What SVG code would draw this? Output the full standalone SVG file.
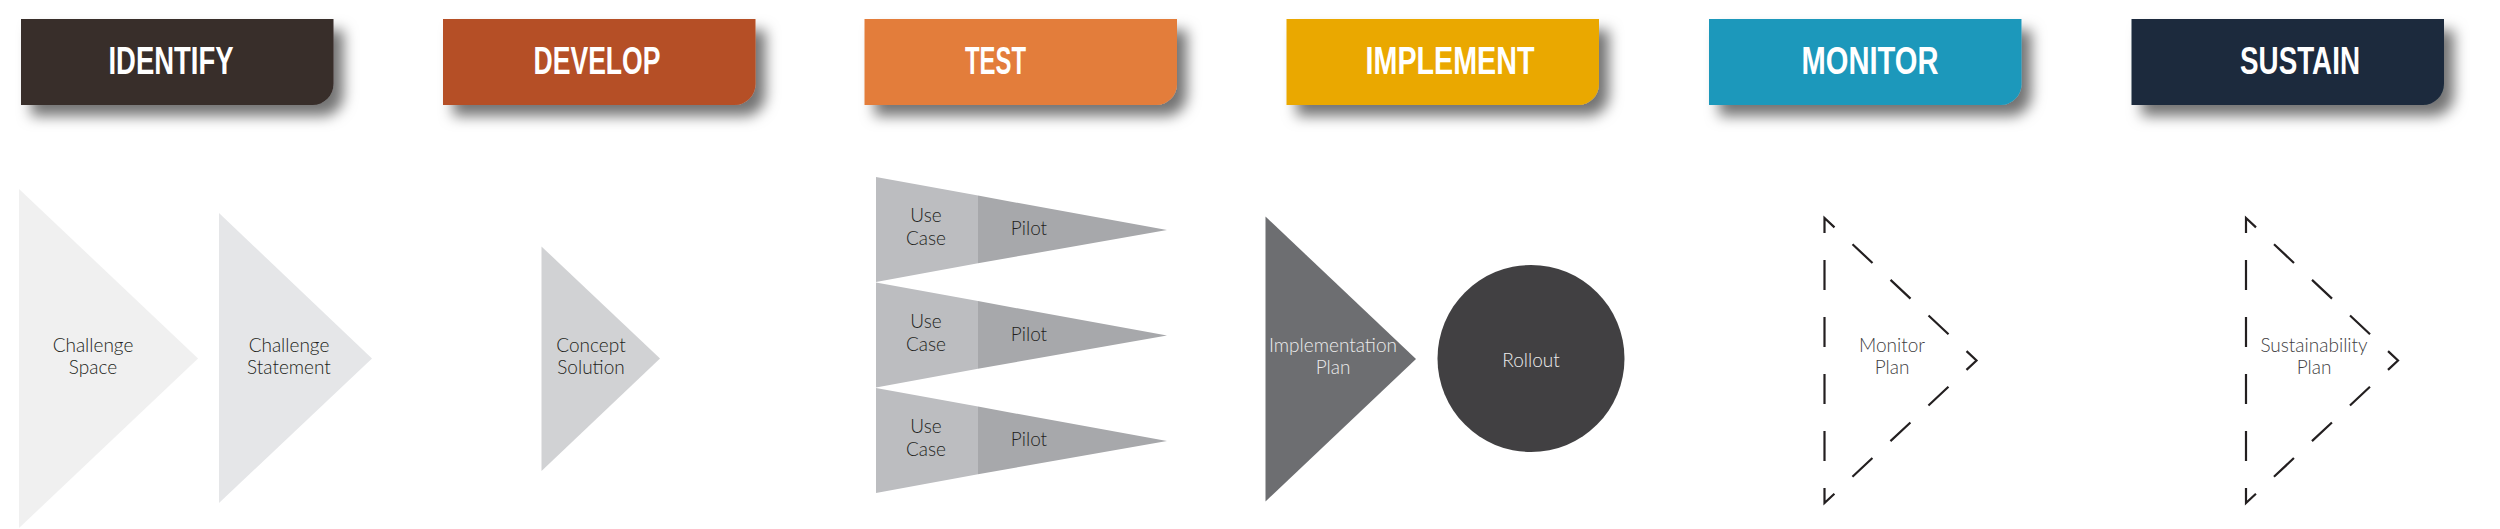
<svg xmlns="http://www.w3.org/2000/svg" width="2500" height="529" viewBox="0 0 2500 529">
<defs>
<filter id="sh" x="-10%" y="-30%" width="130%" height="190%">
<feDropShadow dx="10" dy="11" stdDeviation="7" flood-color="#000" flood-opacity="0.55"/>
</filter>
</defs>
<style>
.hdr{font-family:"Liberation Sans",Arial,sans-serif;font-weight:bold;font-size:38px;fill:#fff;text-anchor:middle}
.lbl{font-family:Lato,"Open Sans","Liberation Sans",sans-serif;font-weight:300;font-size:19px;fill:#231f20;text-anchor:middle}
.lite{fill:#ececec}
.gry{fill:#414042}
.dash{fill:none;stroke:#231f20;stroke-width:2.2;stroke-linejoin:miter;stroke-dasharray:0 13.5 30 27 30 27 28.7 24.7 27.4 24.7 27.4 24.7 27.4 24.7 27.4 24.7 27.4 24.7 27.4 24.7 27.4 24.7 28.7 27 30 27 30 13.5}
.uc{fill:#bcbdc0}
.pl{fill:#a7a8ab}
</style>
<rect width="2500" height="529" fill="#fff"/>
<g id="identify">
<path d="M21,19 H333.5 V84 A21,21 0 0 1 312.5,105 H21 Z" fill="#382e2c" filter="url(#sh)"/>
<text class="hdr" x="171" y="74" textLength="125" lengthAdjust="spacingAndGlyphs">IDENTIFY</text>
</g>
<g id="develop">
<path d="M443,19 H755.5 V84 A21,21 0 0 1 734.5,105 H443 Z" fill="#b54f27" filter="url(#sh)"/>
<text class="hdr" x="597" y="74" textLength="127" lengthAdjust="spacingAndGlyphs">DEVELOP</text>
</g>
<g id="test">
<path d="M864.5,19 H1177 V84 A21,21 0 0 1 1156,105 H864.5 Z" fill="#e37d3a" filter="url(#sh)"/>
<text class="hdr" x="995.5" y="74" textLength="61" lengthAdjust="spacingAndGlyphs">TEST</text>
</g>
<g id="implement">
<path d="M1286.5,19 H1599 V84 A21,21 0 0 1 1578,105 H1286.5 Z" fill="#eaa804" filter="url(#sh)"/>
<text class="hdr" x="1450" y="74" textLength="169" lengthAdjust="spacingAndGlyphs">IMPLEMENT</text>
</g>
<g id="monitor">
<path d="M1709,19 H2021.5 V84 A21,21 0 0 1 2000.5,105 H1709 Z" fill="#1e98bb" filter="url(#sh)"/>
<text class="hdr" x="1870" y="74" textLength="137" lengthAdjust="spacingAndGlyphs">MONITOR</text>
</g>
<g id="sustain">
<path d="M2131.5,19 H2444 V84 A21,21 0 0 1 2423,105 H2131.5 Z" fill="#1c2b3c" filter="url(#sh)"/>
<text class="hdr" x="2300" y="74" textLength="120" lengthAdjust="spacingAndGlyphs">SUSTAIN</text>
</g>
<g id="challenge-space">
<polygon points="19,189 198,358.5 19,528" fill="#f0f0f0"/>
<text class="lbl" x="93" y="352">Challenge</text>
<text class="lbl" x="93" y="374">Space</text>
</g>
<g id="challenge-statement">
<polygon points="219,213 372,358.5 219,503" fill="#e5e6e8"/>
<text class="lbl" x="289" y="352">Challenge</text>
<text class="lbl" x="289" y="374">Statement</text>
</g>
<g id="concept-solution">
<polygon points="541.5,246.5 660,358.5 541.5,471" fill="#d1d2d4"/>
<text class="lbl" x="591" y="352">Concept</text>
<text class="lbl" x="591" y="374">Solution</text>
</g>
<g id="pilot-1">
<polygon class="uc" points="876,177 978,195.6 978,263.3 876,282"/>
<polygon class="pl" points="978,195.6 1167,230 978,263.3"/>
<text class="lbl" x="926" y="222">Use</text>
<text class="lbl" x="926" y="245">Case</text>
<text class="lbl" x="1029" y="235">Pilot</text>
</g>
<g id="pilot-2">
<polygon class="uc" points="876,282.5 978,301.1 978,368.8 876,387.5"/>
<polygon class="pl" points="978,301.1 1167,335.5 978,368.8"/>
<text class="lbl" x="926" y="327.5">Use</text>
<text class="lbl" x="926" y="350.5">Case</text>
<text class="lbl" x="1029" y="340.5">Pilot</text>
</g>
<g id="pilot-3">
<polygon class="uc" points="876,388 978,406.6 978,474.3 876,493"/>
<polygon class="pl" points="978,406.6 1167,441 978,474.3"/>
<text class="lbl" x="926" y="433">Use</text>
<text class="lbl" x="926" y="456">Case</text>
<text class="lbl" x="1029" y="446">Pilot</text>
</g>
<g id="implementation-plan">
<polygon points="1265.5,216.5 1416,359 1265.5,501.5" fill="#6d6e71"/>
<text class="lbl lite" x="1333" y="352">Implementation</text>
<text class="lbl lite" x="1333" y="374">Plan</text>
</g>
<g id="rollout">
<circle cx="1531" cy="358.5" r="93.5" fill="#414042"/>
<text class="lbl lite" x="1531" y="366.5">Rollout</text>
</g>
<g id="monitor-plan">
<path class="dash" d="M1824.5,360.5 L1824.5,218 L1976.5,360.5 L1824.5,503 Z"/>
<text class="lbl gry" x="1892" y="352">Monitor</text>
<text class="lbl gry" x="1892" y="374">Plan</text>
</g>
<g id="sustainability-plan">
<path class="dash" d="M2246,360.5 L2246,218 L2398,360.5 L2246,503 Z"/>
<text class="lbl gry" x="2314" y="352">Sustainability</text>
<text class="lbl gry" x="2314" y="374">Plan</text>
</g>
<g id="connectors"></g>
</svg>
